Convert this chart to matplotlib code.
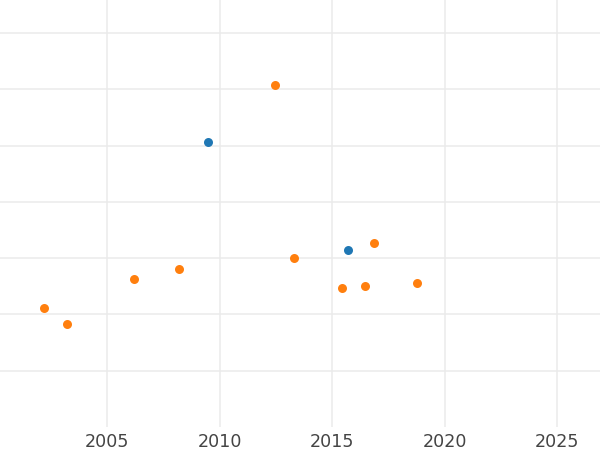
import matplotlib
matplotlib.use("Agg")
import matplotlib.pyplot as plt

# orange series
orange_year = [2002.2, 2003.2, 2006.2, 2008.2, 2012.45, 2013.3, 2015.45, 2016.45, 2016.85, 2018.75]
orange_val = [2.12, 1.83, 2.63, 2.81, 6.08, 3.0, 2.47, 2.51, 3.27, 2.56]

# blue series
blue_year = [2009.5, 2015.7]
blue_val = [5.07, 3.14]

x_ticks = [2005, 2010, 2015, 2020, 2025]
y_grid = [1, 2, 3, 4, 5, 6, 7]

fig = plt.figure(figsize=(6, 4.5), dpi=100)
ax = fig.add_axes([0, 1 - 427 / 450, 1, 427 / 450])

ax.scatter(blue_year, blue_val, s=42, color="#1f77b4", linewidths=0, zorder=3)
ax.scatter(orange_year, orange_val, s=42, color="#ff7f0e", linewidths=0, zorder=3)

ax.set_xlim(2000.24, 2026.9)
ax.set_ylim(0.0, 7.59)
ax.set_xticks(x_ticks)
ax.set_xticklabels([str(t) for t in x_ticks])
ax.set_yticks(y_grid)
ax.set_yticklabels([])

ax.grid(True, color="#ebebeb", linewidth=1.1)
ax.set_axisbelow(True)
for s in ax.spines.values():
    s.set_visible(False)
ax.tick_params(axis="both", length=0)
ax.tick_params(axis="x", labelsize=12.6, labelcolor="#444444", pad=4.5)

fig.savefig("out.png", dpi=100)
